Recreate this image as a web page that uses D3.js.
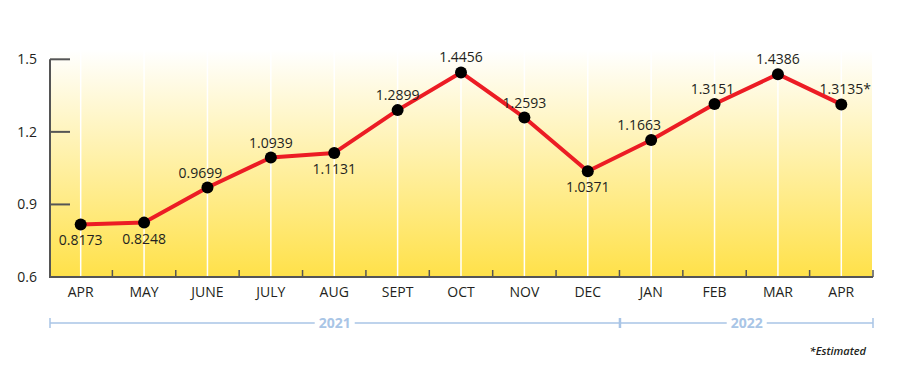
<!DOCTYPE html>
<html>
<head>
<meta charset="utf-8">
<script src="https://cdn.jsdelivr.net/npm/d3@7/dist/d3.min.js"></script>
<style>
  body { margin: 0; background: #fff; }
  svg { display: block; font-family: "Open Sans", "Noto Sans", sans-serif; }
</style>
</head>
<body>
<svg id="chart" width="900" height="373"></svg>
<script>
// data
const months = ['APR', 'MAY', 'JUNE', 'JULY', 'AUG', 'SEPT', 'OCT', 'NOV', 'DEC', 'JAN', 'FEB', 'MAR', 'APR'];
const values = [0.8173, 0.8248, 0.9699, 1.0939, 1.1131, 1.2899, 1.4456, 1.2593, 1.0371, 1.1663, 1.3151, 1.4386, 1.3135];
const yTicks = [0.6, 0.9, 1.2, 1.5];
const years = [{ label: '2021', from: 0, to: 9 }, { label: '2022', from: 9, to: 13 }];
const estimatedIndex = 12;

// label placement (layout only)
const labelBelow = [true, true, false, false, true, false, false, false, true, false, false, false, false];
const labelDx = [0, 0, -7, 0, 0, 0, 0, 0, 0, -12, -2, 0, 4];

const plotLeft = 50, plotRight = 873, plotTop = 50, plotBottom = 277;

const svg = d3.select('#chart');

const x = d3.scaleBand()
  .domain(d3.range(months.length))
  .range([49, plotRight])
  .padding(0);

const y = d3.scaleLinear()
  .domain([0.6, 1.5])
  .range([plotBottom, 59.3]);

const cxOf = (i) => x(i) + x.bandwidth() / 2;

// background gradient
const defs = svg.append('defs');
const grad = defs.append('linearGradient')
  .attr('id', 'bg')
  .attr('x1', 0).attr('y1', 0).attr('x2', 0).attr('y2', 1);
grad.append('stop').attr('offset', '0%').attr('stop-color', '#ffffff');
grad.append('stop').attr('offset', '100%').attr('stop-color', '#ffe149');

svg.append('rect')
  .attr('x', plotLeft)
  .attr('y', plotTop)
  .attr('width', 872 - plotLeft)
  .attr('height', plotBottom - plotTop)
  .attr('fill', 'url(#bg)');

// white vertical gridlines at each month
svg.append('g')
  .selectAll('line')
  .data(d3.range(months.length))
  .join('line')
  .attr('x1', cxOf)
  .attr('x2', cxOf)
  .attr('y1', plotTop)
  .attr('y2', plotBottom)
  .attr('stroke', '#ffffff')
  .attr('stroke-width', 1.5);

// y axis
const yAxis = svg.append('g');
yAxis.append('line')
  .attr('x1', plotLeft).attr('x2', plotLeft)
  .attr('y1', y(1.5)).attr('y2', plotBottom)
  .attr('stroke', '#555').attr('stroke-width', 2);
yAxis.selectAll('line.tick')
  .data(yTicks)
  .join('line')
  .attr('class', 'tick')
  .attr('x1', plotLeft).attr('x2', plotLeft + 20)
  .attr('y1', (d) => y(d)).attr('y2', (d) => y(d))
  .attr('stroke', '#555').attr('stroke-width', 2);
yAxis.selectAll('text')
  .data(yTicks)
  .join('text')
  .attr('x', 37)
  .attr('y', (d) => y(d))
  .attr('dy', '0.35em')
  .attr('text-anchor', 'end')
  .attr('font-size', 14)
  .attr('fill', '#231f20')
  .text((d) => d.toFixed(1));

// x axis
const xAxis = svg.append('g');
xAxis.append('line')
  .attr('x1', plotLeft - 1).attr('x2', plotRight)
  .attr('y1', plotBottom).attr('y2', plotBottom)
  .attr('stroke', '#555').attr('stroke-width', 2);
xAxis.selectAll('line.tick')
  .data(d3.range(1, months.length + 1))
  .join('line')
  .attr('class', 'tick')
  .attr('x1', (i) => 49 + i * x.bandwidth())
  .attr('x2', (i) => 49 + i * x.bandwidth())
  .attr('y1', plotBottom).attr('y2', plotBottom - 7)
  .attr('stroke', '#555').attr('stroke-width', 1.5);
xAxis.selectAll('text')
  .data(months)
  .join('text')
  .attr('x', (d, i) => cxOf(i))
  .attr('y', 297)
  .attr('text-anchor', 'middle')
  .attr('font-size', 14)
  .attr('fill', '#231f20')
  .text((d) => d);

// year brackets
const bracketY = 323;
const blue = '#a9c5e6';
const yearG = svg.append('g');
years.forEach((yr) => {
  const x0 = 49 + yr.from * x.bandwidth() + 1;
  const x1 = 49 + yr.to * x.bandwidth();
  const cx = (x0 + x1) / 2;
  const half = 20;
  yearG.append('line')
    .attr('x1', x0).attr('x2', cx - half)
    .attr('y1', bracketY).attr('y2', bracketY)
    .attr('stroke', blue).attr('stroke-width', 1.5);
  yearG.append('line')
    .attr('x1', cx + half).attr('x2', x1)
    .attr('y1', bracketY).attr('y2', bracketY)
    .attr('stroke', blue).attr('stroke-width', 1.5);
  [x0, x1].forEach((xx) => {
    yearG.append('line')
      .attr('x1', xx).attr('x2', xx)
      .attr('y1', bracketY - 5).attr('y2', bracketY + 5)
      .attr('stroke', blue).attr('stroke-width', 1.5);
  });
  yearG.append('text')
    .attr('x', cx)
    .attr('y', bracketY)
    .attr('dy', '0.35em')
    .attr('text-anchor', 'middle')
    .attr('font-size', 14)
    .attr('font-weight', 'bold')
    .attr('fill', blue)
    .text(yr.label);
});

// line
const line = d3.line()
  .x((d, i) => cxOf(i))
  .y((d) => y(d));

svg.append('path')
  .datum(values)
  .attr('d', line)
  .attr('fill', 'none')
  .attr('stroke', '#ec1c24')
  .attr('stroke-width', 4)
  .attr('stroke-linejoin', 'round');

svg.append('g')
  .selectAll('circle')
  .data(values)
  .join('circle')
  .attr('cx', (d, i) => cxOf(i))
  .attr('cy', (d) => y(d))
  .attr('r', 6)
  .attr('fill', '#000');

// value labels
svg.append('g')
  .selectAll('text')
  .data(values)
  .join('text')
  .attr('x', (d, i) => cxOf(i) + labelDx[i])
  .attr('y', (d, i) => y(d) + (labelBelow[i] ? 21 : -10))
  .attr('text-anchor', 'middle')
  .attr('font-size', 14)
  .attr('fill', '#231f20')
  .text((d, i) => d.toFixed(4) + (i === estimatedIndex ? '*' : ''));

svg.append('text')
  .attr('x', 866)
  .attr('y', 355)
  .attr('text-anchor', 'end')
  .attr('font-size', 11)
  .attr('font-style', 'italic')
  .attr('font-weight', 600)
  .attr('fill', '#231f20')
  .text('*Estimated');
</script>
</body>
</html>
